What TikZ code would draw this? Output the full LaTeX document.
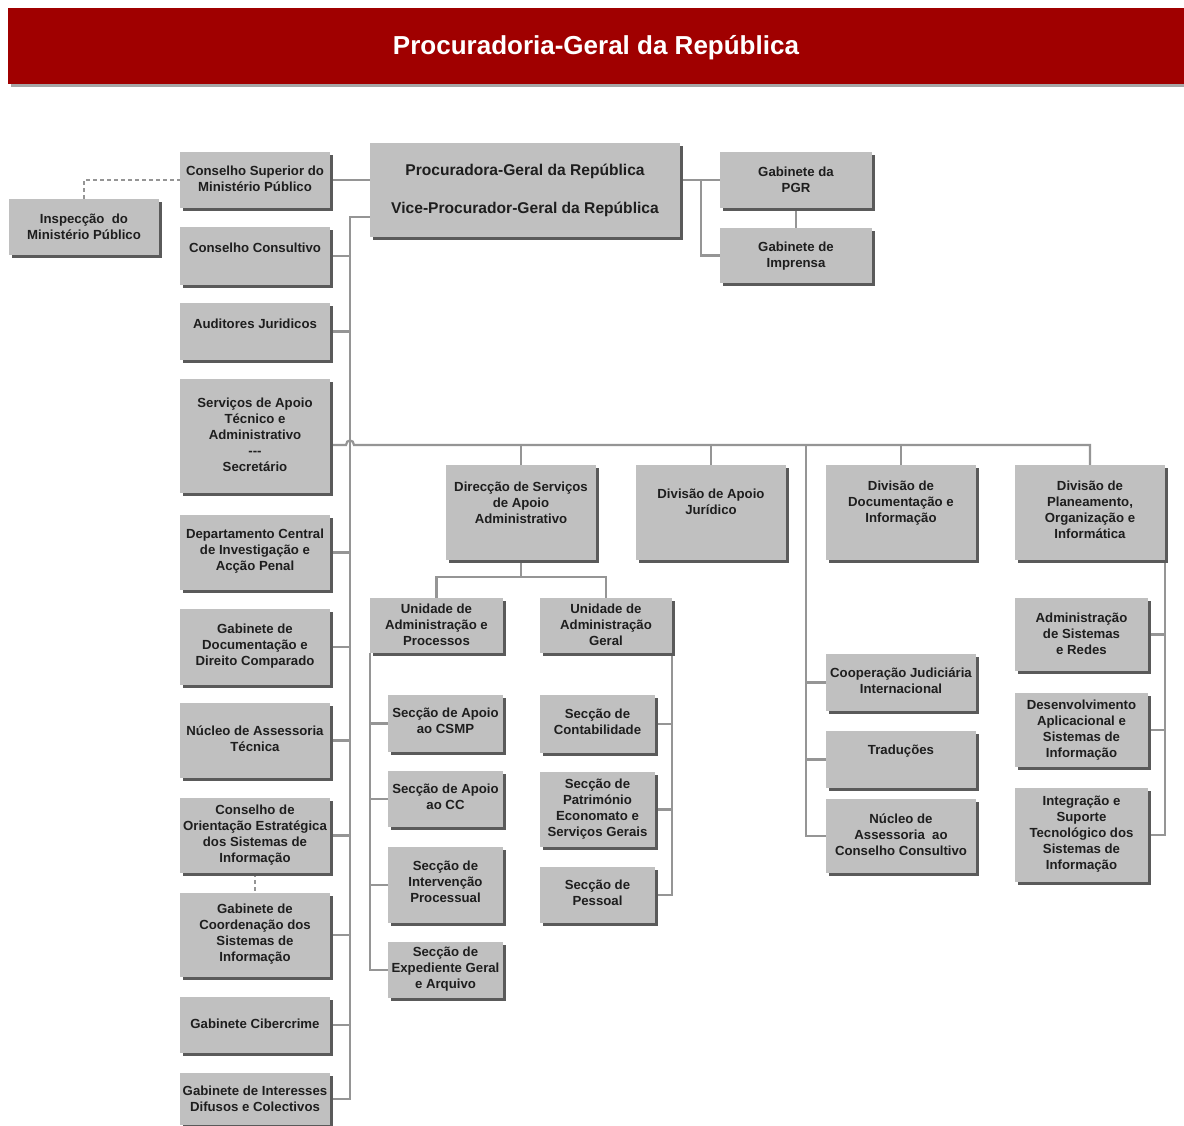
\documentclass[tikz,border=0pt]{standalone}
\usepackage{fontspec}
\setmainfont{Liberation Sans}
\usetikzlibrary{shadows}
\definecolor{pgrred}{HTML}{A00000}
\definecolor{boxgray}{HTML}{C0C0C0}
\definecolor{shadowgray}{HTML}{5A5A5A}
\definecolor{linegray}{HTML}{959595}
\definecolor{txtc}{HTML}{1E1E1E}
\pgfdeclarelayer{bglayer}
\pgfsetlayers{bglayer,main}
\tikzset{
  obox/.style={draw=none, fill=boxgray, inner sep=0pt,
    general shadow={fill=shadowgray, shadow xshift=3pt, shadow yshift=-3pt}},
  otext/.style={inner sep=0pt, align=center, text=txtc,
    font=\fontsize{13.2}{16}\selectfont\bfseries,
    execute at begin node=\strut, execute at end node=\strut},
  bigtext/.style={inner sep=0pt, text=txtc,
    font=\fontsize{15.6}{19}\selectfont\bfseries,
    execute at begin node=\strut},
  titlebar/.style={draw=none, fill=pgrred, inner sep=0pt,
    general shadow={fill=gray!70, shadow xshift=3pt, shadow yshift=-3pt}},
  conn/.style={draw=linegray, line width=2.2pt},
  dconn/.style={draw=linegray, line width=2.2pt, dash pattern=on 4pt off 3pt},
}
\newcommand{\obx}[7]{%
  \node[obox, minimum width={(#4-#2)*1pt}, minimum height={(#5-#3)*1pt}] (#1) at ({(#2+#4)/2},{(#3+#5)/2}) {};
  \node[otext] (#1t) at ({(#2+#4)/2},{#6+2.5}) {#7};
}
\begin{document}
\begin{tikzpicture}[x=1pt,y=-1pt]
\useasboundingbox (0,0) rectangle (1184,1126);
\begin{pgfonlayer}{bglayer}
  \fill[white] (0,0) rectangle (1184,1126);
\end{pgfonlayer}

% title
\node[titlebar, minimum width=1176pt, minimum height=76pt] (title) at (596,46) {};
\node[inner sep=0pt, text=white, anchor=base, font=\fontsize{26}{31}\selectfont\bfseries] (titlet) at (596,54.5) {Procuradoria-Geral da República};

% top
\node[obox, minimum width=310pt, minimum height=94pt] (pgr) at (525,190) {};
\node[bigtext] (pgrt1) at (525,171.5) {Procuradora-Geral da República};
\node[bigtext] (pgrt2) at (525,209.5) {Vice-Procurador-Geral da República};
\obx{gpgr}{720}{152}{872}{208}{179.5}{Gabinete da\\PGR}
\obx{gimp}{720}{228}{872}{283}{254.5}{Gabinete de\\Imprensa}
\obx{insp}{9}{199}{159}{255}{226.5}{Inspecção~ do\\Ministério Público}

% left column
\obx{csm}{180}{152}{330}{208}{179}{Conselho Superior do\\Ministério Público}
\obx{cc}{180}{227}{330}{285}{247}{Conselho Consultivo}
\obx{aud}{180}{303}{330}{360}{323}{Auditores Juridicos}
\obx{sat}{180}{379}{330}{493}{435}{Serviços de Apoio\\Técnico e\\Administrativo\\{-}{-}{-}\\Secretário}
\obx{dci}{180}{515}{330}{590}{550}{Departamento Central\\de Investigação e\\Acção Penal}
\obx{gddc}{180}{609}{330}{685}{645}{Gabinete de\\Documentação e\\Direito Comparado}
\obx{nat}{180}{703}{330}{778}{739}{Núcleo de Assessoria\\Técnica}
\obx{coe}{180}{798}{330}{873}{833.5}{Conselho de\\Orientação Estratégica\\dos Sistemas de\\Informação}
\obx{gcsi}{180}{893}{330}{977}{933}{Gabinete de\\Coordenação dos\\Sistemas de\\Informação}
\obx{gc}{180}{997}{330}{1053}{1023}{Gabinete Cibercrime}
\obx{gid}{180}{1073}{330}{1125}{1099}{Gabinete de Interesses\\Difusos e Colectivos}

% divisions
\obx{dsa}{446}{465}{596}{560}{502.5}{Direcção de Serviços\\de Apoio\\Administrativo}
\obx{daj}{636}{465}{786}{560}{502}{Divisão de Apoio\\Jurídico}
\obx{ddi}{826}{465}{976}{560}{502}{Divisão de\\Documentação e\\Informação}
\obx{dpo}{1015}{465}{1165}{560}{510}{Divisão de\\Planeamento,\\Organização e\\Informática}

% under DSA
\obx{uap}{370}{598}{503}{653}{624.5}{Unidade de\\Administração e\\Processos}
\obx{uag}{540}{598}{672}{653}{624.5}{Unidade de\\Administração\\Geral}
\obx{scsmp}{388}{695}{503}{752}{721}{Secção de Apoio\\ao CSMP}
\obx{scc}{388}{771}{503}{827}{797}{Secção de Apoio\\ao CC}
\obx{sip}{388}{847}{503}{923}{882}{Secção de\\Intervenção\\Processual}
\obx{seg}{388}{942}{503}{998}{967.5}{Secção de\\Expediente Geral\\e Arquivo}
\obx{scont}{540}{695}{655}{753}{722}{Secção de\\Contabilidade}
\obx{spat}{540}{772}{655}{847}{808}{Secção de\\Património\\Economato e\\Serviços Gerais}
\obx{spes}{540}{867}{655}{923}{893}{Secção de\\Pessoal}

% under DDI
\obx{coop}{826}{654}{976}{711}{681}{Cooperação Judiciária\\Internacional}
\obx{trad}{826}{731}{976}{788}{749}{Traduções}
\obx{nacc}{826}{799}{976}{873}{835}{Núcleo de\\Assessoria~ ao\\Conselho Consultivo}

% under DPO
\obx{asr}{1015}{598}{1148}{671}{633.5}{Administração\\de Sistemas\\e Redes}
\obx{dasi}{1015}{693}{1148}{767}{728.5}{Desenvolvimento\\Aplicacional e\\Sistemas de\\Informação}
\obx{isti}{1015}{788}{1148}{882}{833}{Integração e\\Suporte\\Tecnológico dos\\Sistemas de\\Informação}

% connector coordinates
\coordinate (tr0) at (350,217);
\coordinate (bus) at (350,445);
\coordinate (ubus) at (521,577);
\coordinate (ddx) at (806,445);
\coordinate (gx) at (701,180);

\begin{pgfonlayer}{bglayer}
  \draw[conn] (csm.east) -- (csm.east -| pgr.west);
  \draw[dconn] (insp.north) |- (csm.west);
  \draw[conn] (tr0 -| pgr.west) -- (tr0) |- (gid.east);
  \foreach \b in {cc,aud,dci,gddc,nat,coe,gcsi,gc} \draw[conn] (\b.east) -- (\b.east -| tr0);
  \draw[dconn] (coe.south) -- (gcsi.north);
  \draw[conn] (sat.east |- bus) -- ([xshift=-4pt]bus) .. controls +(0,-6) and +(0,-6) .. ([xshift=4pt]bus) -- (bus -| dpo.north) -- (dpo.north);
  \foreach \b in {dsa,daj,ddi} \draw[conn] (\b.north) -- (\b.north |- bus);
  \draw[conn] (ddx) |- (nacc.west);
  \foreach \b in {coop,trad} \draw[conn] (\b.west) -- (\b.west -| ddx);
  \draw[conn] (dpo.south east) |- (isti.east);
  \foreach \b in {asr,dasi} \draw[conn] (\b.east) -- (\b.east -| dpo.east);
  \draw[conn] (dsa.south) -- (dsa.south |- ubus);
  \draw[conn] (uap.north) -- (uap.north |- ubus) -- (uag.north |- ubus) -- (uag.north);
  \draw[conn] (uap.south west) |- (seg.west);
  \foreach \b in {scsmp,scc,sip} \draw[conn] (\b.west) -- (\b.west -| uap.west);
  \draw[conn] (uag.south east) |- (spes.east);
  \foreach \b in {scont,spat} \draw[conn] (\b.east) -- (\b.east -| uag.east);
  \draw[conn] (gpgr.west -| pgr.east) -- (gpgr.west);
  \draw[conn] (gx) |- (gimp.west);
  \draw[conn] (gpgr.south) -- (gimp.north);
\end{pgfonlayer}
\end{tikzpicture}
\end{document}
